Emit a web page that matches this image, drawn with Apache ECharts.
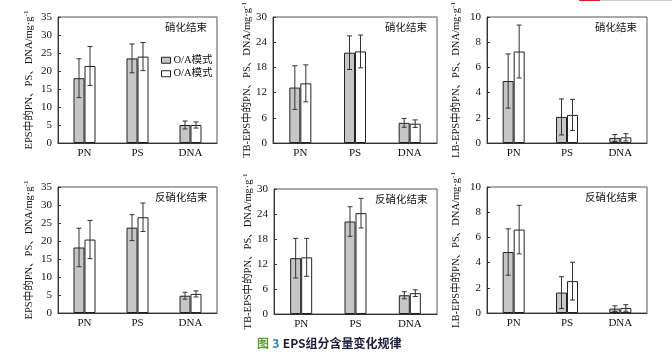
<!DOCTYPE html>
<html><head><meta charset="utf-8">
<script src="https://cdn.jsdelivr.net/npm/echarts@6/dist/echarts.min.js"></script>
<style>html,body{margin:0;padding:0;background:#fff}#c{width:672px;height:354px}</style>
</head><body><div id="c"></div>
<script>
var categories = ['PN', 'PS', 'DNA'];
var legendNames = ['O/A模式', 'O/A模式'];
var panelTitles = ['硝化结束', '硝化结束', '硝化结束', '反硝化结束', '反硝化结束', '反硝化结束'];
var yNames = ['EPS中的PN、PS、DNA/mg·g', 'TB-EPS中的PN、PS、DNA/mg·g', 'LB-EPS中的PN、PS、DNA/mg·g',
              'EPS中的PN、PS、DNA/mg·g', 'TB-EPS中的PN、PS、DNA/mg·g', 'LB-EPS中的PN、PS、DNA/mg·g'];
var yMax = [35, 30, 10, 35, 30, 10];
var yInterval = [5, 6, 2, 5, 6, 2];

// panel values: gray series (a) and white series (b), with error half-widths
var p1a = [18.0, 23.5, 5.0],  p1aErr = [5.4, 4.0, 1.1];
var p1b = [21.4, 24.0, 5.0],  p1bErr = [5.4, 3.9, 0.85];
var p2a = [13.2, 21.5, 4.8],  p2aErr = [5.2, 4.0, 1.05];
var p2b = [14.2, 21.8, 4.6],  p2bErr = [4.4, 3.9, 0.9];
var p3a = [4.92, 2.07, 0.40], p3aErr = [2.15, 1.43, 0.27];
var p3b = [7.26, 2.23, 0.45], p3bErr = [2.10, 1.23, 0.29];
var p4a = [18.2, 23.7, 4.8],  p4aErr = [5.35, 3.6, 0.95];
var p4b = [20.4, 26.6, 5.3],  p4bErr = [5.3, 3.95, 0.85];
var p5a = [13.4, 22.2, 4.5],  p5aErr = [4.75, 3.55, 0.85];
var p5b = [13.6, 24.2, 5.0],  p5bErr = [4.55, 3.55, 0.8];
var p6a = [4.84, 1.62, 0.35], p6aErr = [1.84, 1.26, 0.22];
var p6b = [6.62, 2.53, 0.40], p6bErr = [1.93, 1.50, 0.26];

var A = [p1a, p2a, p3a, p4a, p5a, p6a];
var AE = [p1aErr, p2aErr, p3aErr, p4aErr, p5aErr, p6aErr];
var B = [p1b, p2b, p3b, p4b, p5b, p6b];
var BE = [p1bErr, p2bErr, p3bErr, p4bErr, p5bErr, p6bErr];

var grids = [
  {left: 58, top: 17, width: 159, height: 126},
  {left: 273, top: 17, width: 164, height: 126},
  {left: 487, top: 17, width: 160, height: 126},
  {left: 58, top: 187, width: 159, height: 126},
  {left: 274, top: 189, width: 163, height: 125},
  {left: 487, top: 187, width: 160, height: 126}
];
var nameGaps = [22, 16, 24, 22, 16, 24];
var serif = 'Liberation Serif, Noto Sans CJK SC';
var BW = 11;

var xAxes = [], yAxes = [], series = [], graphics = [];
grids.forEach(function (g, i) {
  g.show = true; g.borderColor = '#555'; g.borderWidth = 1;
  xAxes.push({
    type: 'category', gridIndex: i, data: categories,
    axisLine: {lineStyle: {color: '#333'}}, axisTick: {show: false},
    axisLabel: {color: '#111', fontFamily: serif, fontSize: 11, margin: 5}
  });
  yAxes.push({
    type: 'value', gridIndex: i, min: 0, max: yMax[i], interval: yInterval[i],
    axisLine: {show: true, lineStyle: {color: '#333'}},
    axisTick: {show: true, inside: true, length: 3, lineStyle: {color: '#333'}},
    splitLine: {show: false},
    axisLabel: {color: '#111', fontFamily: serif, fontSize: 11, margin: 6},
    name: '{a|' + yNames[i] + '}{s|-1}', nameLocation: 'middle', nameRotate: 90, nameGap: nameGaps[i],
    nameTextStyle: {
      rich: {
        a: {fontFamily: serif, fontSize: 10.5, color: '#111'},
        s: {fontFamily: serif, fontSize: 7, color: '#111', verticalAlign: 'top', padding: [0, 0, 6, 0]}
      }
    }
  });
  var pairs = [[A[i], AE[i], '#c6c6c6', -1, i === 0 ? 'ga' : 'ga' + i], [B[i], BE[i], '#ffffff', 1, i === 0 ? 'gb' : 'gb' + i]];
  pairs.forEach(function (p) {
    series.push({
      type: 'bar', name: p[4], xAxisIndex: i, yAxisIndex: i, data: p[0], barWidth: BW, barGap: '0%',
      itemStyle: {color: p[2], borderColor: '#222', borderWidth: 1}, silent: true
    });
    var errData = p[0].map(function (v, k) { return [k, v - p[1][k], v + p[1][k]]; });
    var side = p[3];
    series.push({
      type: 'custom', xAxisIndex: i, yAxisIndex: i, data: errData, silent: true, z: 5,
      renderItem: function (params, api) {
        var c = api.value(0);
        var lo = api.coord([c, api.value(1)]);
        var hi = api.coord([c, api.value(2)]);
        var x = lo[0] + side * BW / 2;
        var cap = 2.5;
        var st = {stroke: '#333', lineWidth: 1};
        return {type: 'group', children: [
          {type: 'line', shape: {x1: x, y1: lo[1], x2: x, y2: hi[1]}, style: st},
          {type: 'line', shape: {x1: x - cap, y1: lo[1], x2: x + cap, y2: lo[1]}, style: st},
          {type: 'line', shape: {x1: x - cap, y1: hi[1], x2: x + cap, y2: hi[1]}, style: st}
        ]};
      }
    });
  });
  graphics.push({
    type: 'text', left: g.left + g.width - 10 - (i >= 3 ? 52 : 42), top: g.top + 5,
    style: {text: panelTitles[i], font: '10.5px "Noto Sans CJK SC"', fill: '#111'}
  });
});

graphics.push({
  type: 'text', left: 257, top: 337,
  style: {
    text: '{g|图} {n|3} {k|EPS组分含量变化规律}',
    rich: {
      g: {font: 'bold 12px "Noto Sans CJK SC"', fill: '#5c9a2c'},
      n: {font: 'bold 12px "Noto Sans CJK SC"', fill: '#2f7fb3'},
      k: {font: 'bold 12px "Noto Sans CJK SC"', fill: '#1c1c3a'}
    }
  }
});
graphics.push({type: 'rect', shape: {x: 579, y: 0, width: 93, height: 1}, style: {fill: '#cfcfcf'}});
graphics.push({type: 'rect', shape: {x: 579, y: 0, width: 21, height: 1}, style: {fill: '#e0201c'}});

var chart = echarts.init(document.getElementById('c'), null, {renderer: 'canvas'});
chart.setOption({
  animation: false,
  backgroundColor: '#fff',
  grid: grids, xAxis: xAxes, yAxis: yAxes, series: series,
  legend: {
    data: ['ga', 'gb'], orient: 'vertical', left: 156, top: 50, itemGap: 3,
    itemWidth: 9, itemHeight: 6, icon: 'rect',
    formatter: function (n) { return n === 'ga' ? legendNames[0] : legendNames[1]; },
    textStyle: {fontFamily: serif, fontSize: 10.5, color: '#111', padding: [0, 0, 0, -2]},
    itemStyle: {borderColor: '#222', borderWidth: 1}
  },
  graphic: graphics
});
</script></body></html>
